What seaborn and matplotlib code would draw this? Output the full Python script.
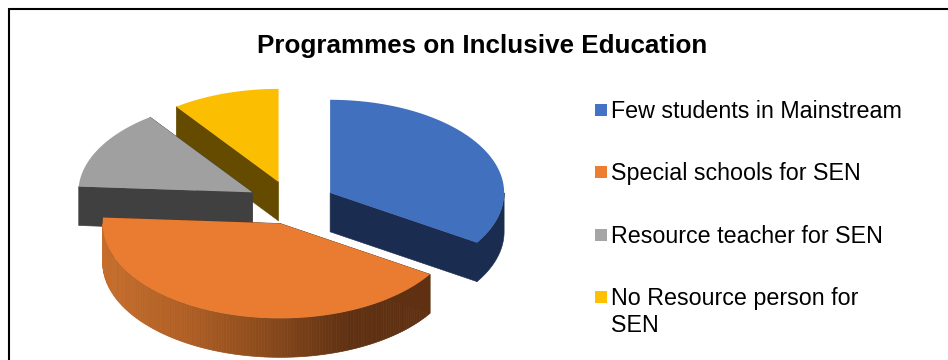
import numpy as np
import matplotlib
matplotlib.use("Agg")
import matplotlib.pyplot as plt
from matplotlib.colors import LinearSegmentedColormap
from matplotlib.patches import Polygon, Rectangle
import seaborn as sns

# Survey shares, percent
categories = ["Few students in Mainstream", "Special schools for SEN",
              "Resource teacher for SEN", "No Resource person for\nSEN"]
shares = [34, 42, 14, 10]
explode = [0.25, 0.22, 0.26, 0.25]

top_colors = ["#4472C4", "#ED7D31", "#A5A5A5", "#FFC000"]
face_colors = ["#4070BE", "#E97C30", "#A0A0A0", "#FBBE00"]
side_colors = ["#1A2C50", "#5F3112", "#404040", "#654B00"]

sns.set_theme(style="white")
plt.rcParams["font.family"] = ["Liberation Sans", "DejaVu Sans"]

CX, CY = 292.0, 204.0     # pie centre, px
RX, RY = 174.0, 93.0      # tilted ellipse radii, px
DEPTH = 39.0              # extrusion height, px
scale = [1.0, 1.02, 1.0, 1.0]

fig = plt.figure(figsize=(9.48, 3.6), dpi=100, facecolor="white")
ax = fig.add_axes([0, 0, 1, 1])
ax.set_xlim(0, 948)
ax.set_ylim(360, 0)
ax.axis("off")

# Chart border: only its top and left sides fall inside the canvas
ax.plot([9, 948], [9, 9], color="black", lw=1.5, solid_capstyle="butt")
ax.plot([9, 9], [8.3, 360], color="black", lw=1.5, solid_capstyle="butt")


def rim(theta, ox, oy, k):
    """Point on the ellipse, theta in degrees clockwise from twelve o'clock."""
    t = np.radians(theta)
    return ox + k * RX * np.sin(t), oy - k * RY * np.cos(t)


orange_wall = LinearSegmentedColormap.from_list(
    "wall", ["#C56D2C", "#B05F24", "#8A4A1C", "#5F3112", "#5F3112"])

bounds = np.concatenate([[0], np.cumsum(shares)]) / sum(shares) * 360
slices = []
for i in range(len(shares)):
    a0, a1 = bounds[i], bounds[i + 1]
    mid = np.radians((a0 + a1) / 2)
    ox = CX + explode[i] * RX * np.sin(mid)
    oy = CY - explode[i] * RY * np.cos(mid)
    slices.append((i, a0, a1, ox, oy, scale[i]))

# Back-to-front painting order: yellow, grey, blue, orange
for i, a0, a1, ox, oy, k in [slices[3], slices[2], slices[0], slices[1]]:
    thetas = np.linspace(a0, a1, 160)
    xs, ys = rim(thetas, ox, oy, k)

    # Cut faces; the one at twelve o'clock is seen edge-on and stays hidden
    for cut in (a0, a1):
        if np.isclose(cut % 360, 0):
            continue
        ex, ey = rim(cut, ox, oy, k)
        ax.add_patch(Polygon([(ox, oy), (ex, ey), (ex, ey + DEPTH), (ox, oy + DEPTH)],
                             fc=side_colors[i], ec=side_colors[i], lw=0.4, zorder=2))

    # Outer wall, only where it faces the viewer
    front = (thetas >= 90) & (thetas <= 270)
    if front.any():
        fx, fy = xs[front], ys[front]
        if i == 1:
            lo, hi = fx.min(), fx.max()
            for j in range(len(fx) - 1):
                c = orange_wall((0.5 * (fx[j] + fx[j + 1]) - lo) / (hi - lo))
                ax.add_patch(Polygon([(fx[j], fy[j]), (fx[j + 1], fy[j + 1]),
                                      (fx[j + 1], fy[j + 1] + DEPTH), (fx[j], fy[j] + DEPTH)],
                                     fc=c, ec=c, lw=0.5, zorder=2))
        else:
            ax.add_patch(Polygon(np.r_[np.c_[fx, fy], np.c_[fx[::-1], fy[::-1] + DEPTH]],
                                 fc=side_colors[i], ec=side_colors[i], lw=0.4, zorder=2))

    # Top face
    ax.add_patch(Polygon(np.r_[[[ox, oy]], np.c_[xs, ys]],
                         fc=face_colors[i], ec="none", zorder=2))

ax.text(482, 46, "Programmes on Inclusive Education", ha="center", va="center",
        fontsize=18.7, fontweight="bold", color="black")

# Legend entries, first-line aligned so the wrapped label hangs below its swatch
legend_y = [110, 172, 235, 297]
for color, label, y in zip(top_colors, categories, legend_y):
    ax.add_patch(Rectangle((595, y - 6.5), 12.5, 12.5, fc=color, ec="none"))
    ax.text(611.5, y - 10, label, ha="left", va="top", fontsize=16.75,
            color="black", linespacing=1.2)

fig.savefig("out.png", dpi=100, facecolor="white")
